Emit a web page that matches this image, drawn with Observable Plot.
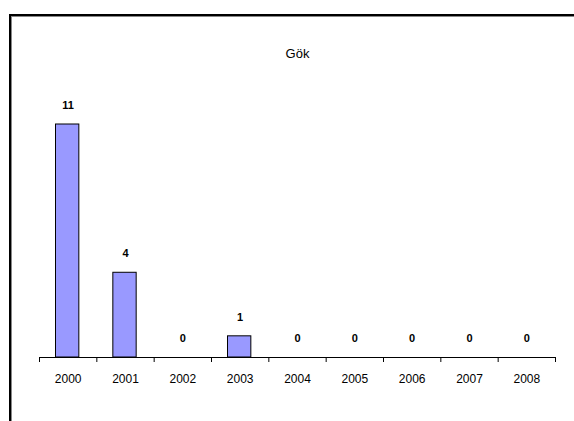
<!DOCTYPE html>
<html>
<head>
<meta charset="utf-8">
<script src="https://cdn.jsdelivr.net/npm/d3@7"></script>
<script src="https://cdn.jsdelivr.net/npm/@observablehq/plot@0.6"></script>
<style>
  html, body { margin: 0; padding: 0; background: #fff; }
  #wrap { position: relative; width: 574px; height: 421px; overflow: hidden; }
  #frame { position: absolute; left: 9px; top: 14px; width: 600px; height: 500px;
           border-top: 2px solid #000; border-left: 2px solid #000; box-shadow: 1px 1px 0 #888 inset; }
  #chart { position: absolute; left: 0; top: 0; }
</style>
</head>
<body>
<div id="wrap"><div id="frame"></div><div id="chart"></div></div>
<script>
const title = "Gök";
const years = ["2000", "2001", "2002", "2003", "2004", "2005", "2006", "2007", "2008"];
const values = [11, 4, 0, 1, 0, 0, 0, 0, 0];

const data = years.map((y, i) => ({year: y, i, value: values[i]}));
const bars = data.filter(d => d.value > 0);

const chart = Plot.plot({
  width: 574,
  height: 421,
  marginLeft: 39,
  marginRight: 19,
  marginTop: 124,
  marginBottom: 64,
  style: {background: "transparent", fontFamily: "Arial, 'Liberation Sans', sans-serif"},
  x: {type: "linear", domain: [0, years.length], axis: null, label: null},
  y: {type: "linear", domain: [0, 11], axis: null, label: null},
  marks: [
    Plot.rectY(bars, {x1: "i", x2: d => d.i + 1, y: "value", insetLeft: 16.5, insetRight: 17.5,
      fill: "#9999ff", stroke: "#000", strokeWidth: 1}),
    Plot.ruleY([0], {stroke: "#000", strokeWidth: 1}),
    Plot.axisX({ticks: d3.range(years.length + 1), tickSize: 5, tickFormat: () => "", anchor: "bottom", stroke: "#000", label: null}),
    Plot.text(data, {x: d => d.i + 0.5, y: "value", text: d => String(d.value), dy: -19,
      fontWeight: "bold", fontSize: 11, fill: "#000"}),
    Plot.text(data, {x: d => d.i + 0.5, y: 0, text: "year", dy: 22, fontSize: 12, fill: "#000"}),
    Plot.text([title], {frameAnchor: "top", lineAnchor: "middle", dy: -71, fontSize: 13, fill: "#000"})
  ]
});
document.getElementById("chart").appendChild(chart);
</script>
</body>
</html>
